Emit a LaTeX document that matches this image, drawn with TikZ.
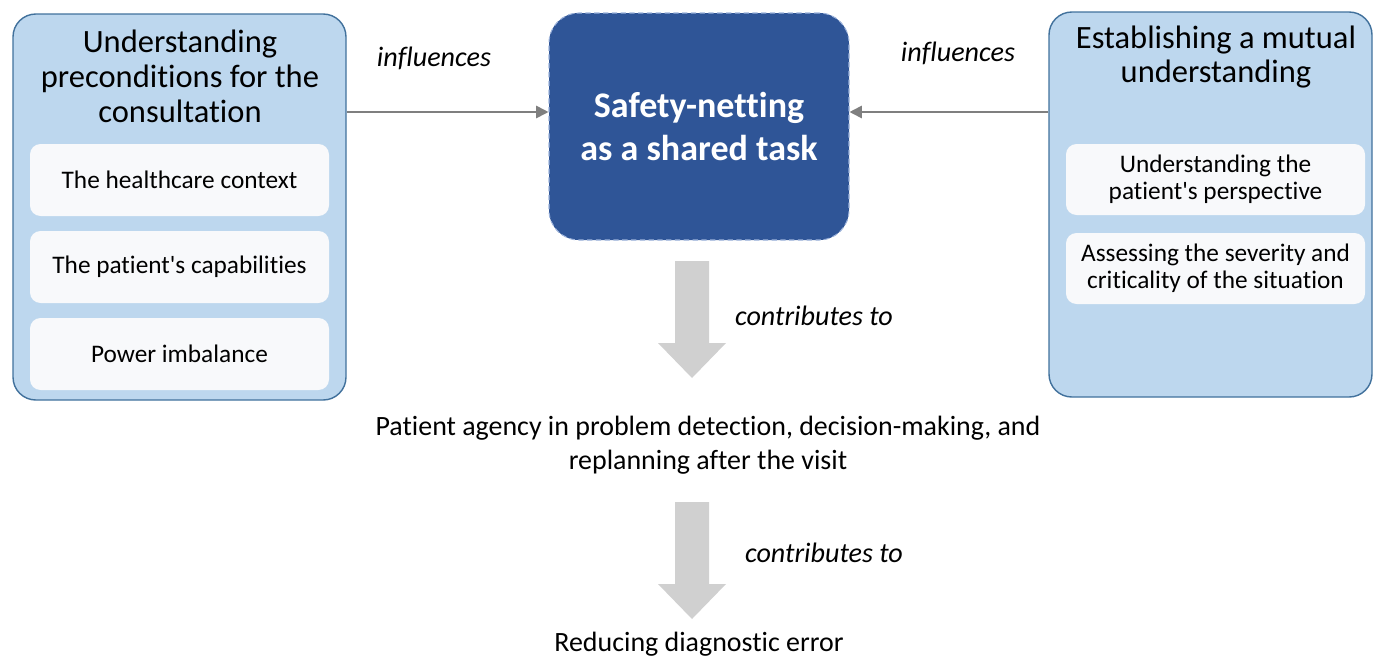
\documentclass[tikz,border=0pt]{standalone}
\usepackage{fontspec}
\setmainfont{Carlito}[Ligatures={TeX,NoCommon}]
\usetikzlibrary{positioning}

\definecolor{hellblau}{HTML}{BDD7EE}
\definecolor{randblau}{HTML}{41719C}
\definecolor{kernblau}{HTML}{2F5597}
\definecolor{kernrand}{HTML}{9DB3DB}
\definecolor{punktweiss}{HTML}{F8F9FB}
\definecolor{linie}{HTML}{7F7F7F}
\definecolor{blockgrau}{HTML}{D0D0D0}

\tikzset{
    rahmen/.style={draw=randblau, line width=0.8pt, fill=hellblau, rounded corners=13pt},
    titel/.style={align=center, font=\fontsize{18.5}{19.9}\selectfont, inner sep=0pt},
    punkt/.style={fill=punktweiss, rounded corners=6pt, align=center, inner sep=0pt,
        font=\fontsize{14.4}{15.4}\selectfont},
    kern/.style={fill=kernblau, draw=kernrand, densely dashed, line width=0.6pt,
        rounded corners=17pt, align=center, text=white,
        font=\fontsize{20.5}{24.5}\selectfont\bfseries},
    einfluss/.style={draw=linie, line width=1pt, -{Triangle[length=7pt,width=7pt]}},
    kursiv/.style={font=\fontsize{16}{19}\selectfont\itshape, inner sep=0pt},
    ergebnis/.style={align=center, font=\fontsize{15.9}{19.3}\selectfont, inner sep=0pt}
}
\usetikzlibrary{arrows.meta}

\begin{document}
\begin{tikzpicture}[x=0.02cm, y=-0.02cm]
    % Pixelmass
    \def\px{0.02cm}
    \useasboundingbox (0,0) rectangle (1373,656);

    % Aussenkaesten
    \node[rahmen, minimum width=333*\px, minimum height=386*\px] (links) at (179.5,207) {};
    \node[rahmen, minimum width=323*\px, minimum height=385*\px] (rechts) at (1210.5,204.5) {};

    % Ueberschriften
    \node[titel] (linkstitel) at (180,76) {Understanding\\preconditions for the\\consultation};
    \node[titel] (rechtstitel) at (1216,57) {Establishing a mutual\\understanding};

    % Unterpunkte links
    \foreach \txt [count=\i from 0] in {The healthcare context, The patient\textquotesingle s capabilities, Power imbalance} {
        \node[punkt, minimum width=299*\px, minimum height=72*\px] (l\i) at (179.5, 180+\i*87) {\txt};
    }

    % Unterpunkte rechts
    \foreach \txt [count=\i from 0] in {{Understanding the\\patient\textquotesingle s perspective}, {Assessing the severity and\\criticality of the situation}} {
        \node[punkt, minimum width=299*\px, minimum height=71*\px] (r\i) at (1215.5, 179.5+\i*89) {\txt};
    }

    % Kern
    \node[kern, minimum width=300*\px, minimum height=227*\px] (mitte) at (699,126.5) {Safety-netting\\as a shared task};

    % Einfluesse
    \coordinate (hoehe) at (0,112);
    \draw[einfluss] (links.east |- hoehe) -- (mitte.west |- hoehe);
    \draw[einfluss] (rechts.west |- hoehe) -- (mitte.east |- hoehe);
    \node[kursiv] (einfl1) at (434,58) {influences};
    \node[kursiv] (einfl2) at (958,53) {influences};

    % Ergebnisse
    \node[ergebnis] (agency) at (708,445) {Patient agency in problem detection, decision-making, and\\replanning after the visit};
    \node[ergebnis, anchor=north] (fehler) at (699,632) {Reducing diagnostic error};

    % Blockpfeile
    \foreach \oben/\ytext/\xtext in {261/316/814, 502/553/824} {
        \fill[blockgrau] (675,\oben) -- (709,\oben) -- (709,\oben+82) -- (726,\oben+82)
            -- (692,\oben+117) -- (658,\oben+82) -- (675,\oben+82) -- cycle;
        \node[kursiv] at (\xtext,\ytext) {contributes to};
    }
\end{tikzpicture}
\end{document}
